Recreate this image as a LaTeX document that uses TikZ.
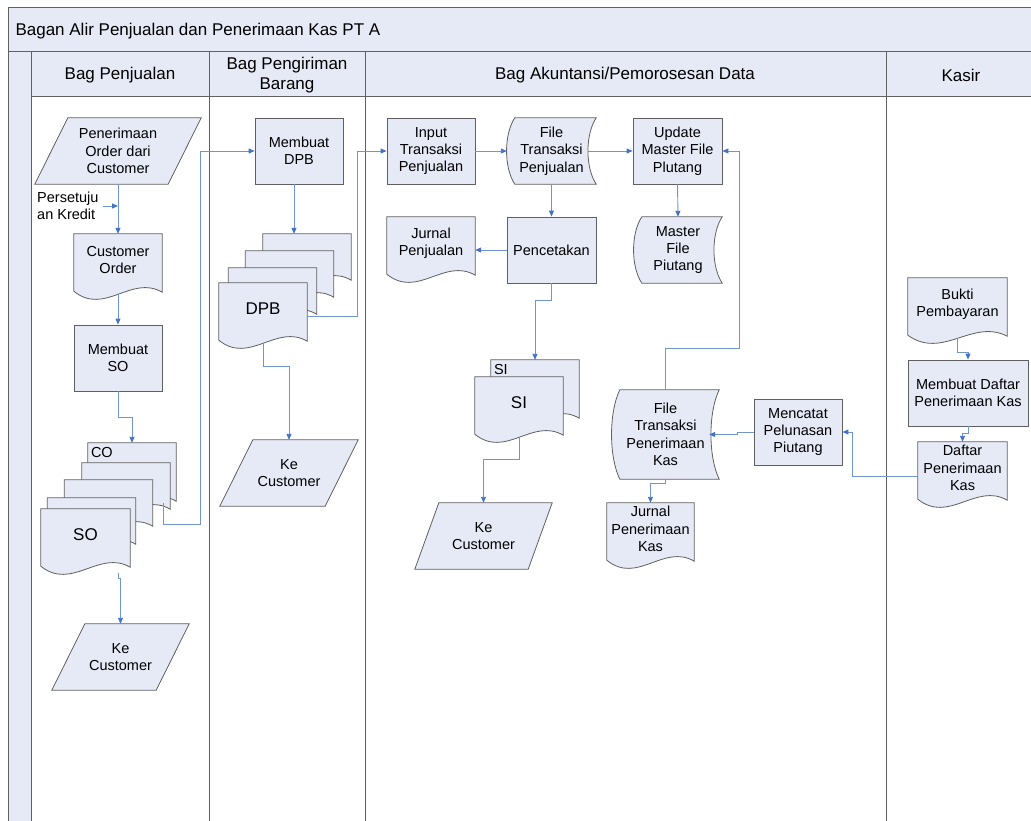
\documentclass[tikz,border=0pt]{standalone}
\usepackage{fontspec}
\setmainfont{Liberation Sans}
\usetikzlibrary{arrows.meta, calc}

\definecolor{lane}{RGB}{230,234,246}
\definecolor{edge}{RGB}{96,96,96}
\definecolor{flowblue}{RGB}{112,150,208}
\definecolor{tipblue}{RGB}{68,114,196}

\pgfdeclarelayer{background}
\pgfsetlayers{background,main}

% outline of a document sheet (wavy bottom)
\newcommand{\docshape}[1]{%
  \draw[shapebox] (#1.north west) -- (#1.north east) -- ($(#1.south east)+(0,6)$)
    .. controls ($(#1.south east)!.35!(#1.south west)+(0,-12)$) and ($(#1.south west)!.35!(#1.south east)+(0,30)$)
    .. ($(#1.south west)+(0,5)$) -- cycle;}
% outline of stored data
\newcommand{\storeshape}[1]{%
  \draw[shapebox] ($(#1.north west)+(8,0)$) -- (#1.north east)
    .. controls ($(#1.north east)!.25!(#1.south east)+(-11,0)$) and ($(#1.south east)!.25!(#1.north east)+(-11,0)$) .. (#1.south east)
    -- ($(#1.south west)+(8,0)$)
    .. controls ($(#1.south west)!.25!(#1.north west)+(-3,0)$) and ($(#1.north west)!.25!(#1.south west)+(-3,0)$) .. ($(#1.north west)+(8,0)$) -- cycle;}
% outline of input/output
\newcommand{\ioshape}[2]{%
  \draw[shapebox] ($(#1.north west)+(#2,0)$) -- (#1.north east) -- ($(#1.south east)+(-#2,0)$) -- (#1.south west) -- cycle;}

\begin{document}
\begin{tikzpicture}[x=1pt, y=-1pt, font=\fontsize{14.5}{17.4}\selectfont,
  proc/.style={draw=edge, fill=lane, line width=0.8pt, minimum width=88pt, minimum height=66pt, inner sep=0pt, align=center},
  doc/.style={minimum width=88pt, minimum height=52pt, inner sep=0pt, align=center},
  sheet/.style={doc, minimum height=40pt},
  store/.style={minimum width=88pt, minimum height=66pt, inner sep=0pt, align=center},
  shapebox/.style={draw=edge, fill=lane, line width=0.8pt},
  flow/.style={draw=flowblue, line width=0.9pt, -{Triangle[length=6pt, width=5pt, color=tipblue]}},
  lanehead/.style={font=\fontsize{17}{20}\selectfont, align=center},
  biglabel/.style={font=\fontsize{17}{20}\selectfont}]
  \useasboundingbox (0,0) rectangle (1031,821);

  % titles
  \node[lanehead, anchor=west] (title) at (12,31) {Bagan Alir Penjualan dan Penerimaan Kas PT A};
  \node[lanehead] (hjual) at (120,75) {Bag Penjualan};
  \node[lanehead] (hkirim) at (287,75) {Bag Pengiriman\\Barang};
  \node[lanehead] (hakun) at (625,75) {Bag Akuntansi/Pemorosesan Data};
  \node[lanehead] (hkasir) at (961,75) {Kasir};

  % Bag Penjualan
  \node[store, minimum width=166pt] (poc) at (118,151) {Penerimaan\\Order dari\\Customer};
  \node[anchor=west, align=left, inner sep=0pt] (kredit) at (37,206) {Persetuju\\an Kredit};
  \node[doc] (cord) at (118,260) {Customer\\Order};
  \node[proc] (mso) at (118,358) {Membuat\\SO};
  \node[doc] (co1) at (132,469) {};
  \node[sheet] (co2) at (126,483) {};
  \node[sheet] (co3) at (108.5,500) {};
  \node[sheet] (co4) at (91.5,518) {};
  \node[doc, biglabel, minimum width=89pt] (so) at (85.5,535) {SO};
  \node[anchor=west, inner sep=0pt] (colbl) at ($(co1.north west)+(3,10)$) {CO};
  \node[store, minimum width=137pt] (kc1) at (120.5,657) {Ke\\Customer};

  % Bag Pengiriman Barang
  \node[proc] (dpb) at (299,151) {Membuat\\DPB};
  \node[sheet] (dpb1) at (307,254) {};
  \node[sheet] (dpb2) at (289.5,271) {};
  \node[sheet] (dpb3) at (272.5,288) {};
  \node[doc, biglabel] (dpbd) at (263,309) {DPB};
  \node[store, minimum width=138pt] (kc2) at (289,473) {Ke\\Customer};

  % Bag Akuntansi
  \node[proc] (input) at (431,151) {Input\\Transaksi\\Penjualan};
  \node[store, minimum width=89pt] (ftp) at (551.5,151) {File\\Transaksi\\Penjualan};
  \node[proc, minimum width=89pt] (upd) at (677.5,151) {Update\\Master File\\Plutang};
  \node[doc] (jp) at (431,243) {Jurnal\\Penjualan};
  \node[proc, minimum width=89pt] (pct) at (551.5,250) {Pencetakan};
  \node[store] (mfp) at (678,250) {Master\\File\\Piutang};
  \node[doc] (si1) at (535,386) {};
  \node[doc, biglabel] (si2) at (519,403) {SI};
  \node[anchor=west, inner sep=0pt] (silbl) at ($(si1.north west)+(3,10)$) {SI};
  \node[store, minimum width=137pt] (kc3) at (483.5,536) {Ke\\Customer};
  \node[store, minimum width=107pt, minimum height=89pt] (ftpk) at (665.5,434.5) {File\\Transaksi\\Penerimaan\\Kas};
  \node[doc, minimum width=87pt] (jpk) at (650.5,529) {Jurnal\\Penerimaan\\Kas};
  \node[proc] (mcp) at (798,432) {Mencatat\\Pelunasan\\Piutang};

  % Kasir
  \node[doc, minimum width=99pt] (bkt) at (957.5,304) {Bukti\\Pembayaran};
  \node[proc, minimum width=120pt] (mdk) at (968,393) {Membuat Daftar\\Penerimaan Kas};
  \node[doc, minimum width=89pt] (dpk) at (962.5,468) {Daftar\\Penerimaan\\Kas};

  \begin{pgfonlayer}{background}
    \fill[lane] (8,8) rectangle (1031,52);
    \fill[lane] (31,52) rectangle (1031,97);
    \fill[lane] (8,52) rectangle (31,821);
    \draw[edge, line width=1pt] (1031,8) -- (8,8) -- (8,821);
    \draw[edge, line width=1pt] (8,52) -- (1031,52) (31,97) -- (1031,97);
    \foreach \x in {31,209,365,886}
      \draw[edge, line width=1pt] (\x,52) -- (\x,821);
    \ioshape{poc}{33}
    \ioshape{kc1}{33}
    \ioshape{kc2}{33}
    \ioshape{kc3}{24}
    \foreach \d in {cord,co1,co2,co3,co4,so,dpb1,dpb2,dpb3,dpbd,jp,si1,si2,jpk,bkt,dpk}
      {\docshape{\d}}
    \foreach \s in {ftp,mfp,ftpk}
      {\storeshape{\s}}
  \end{pgfonlayer}

  % connectors
  \draw[flow] (poc.south) -- (cord.north);
  \draw[flow] ([xshift=4pt]kredit.east) -- (kredit.east -| cord.north);
  \draw[flow] ([yshift=-8pt]cord.south) -- (mso.north);
  \draw[flow] (mso.south) -- ++(0,26) -| (co1.north);
  \draw[flow] ([xshift=-7pt]co2.south east) -- ++(0,21) -- ++(37,0) |- (dpb.west);
  \draw[flow] ([xshift=-12pt,yshift=-12pt]so.south east) -- ++(0,5) -| (kc1.north);
  \draw[flow] ([xshift=-5pt]dpb.south) -- ([xshift=-5pt]dpb.south |- dpb1.north);
  \draw[flow] ([yshift=-7pt]dpbd.east) -- ++(50,0) |- (input.west);
  \draw[flow] ([yshift=-8pt]dpbd.south) -- ++(0,23) -| (kc2.north);
  \draw[flow] (input.east) -- (ftp.west);
  \draw[flow] ([xshift=-8pt]ftp.east) -- (upd.west);
  \draw[flow] (ftp.south) -- (pct.north);
  \draw[flow] (pct.west) -- (jp.east |- pct.west);
  \draw[flow] (upd.south) -- (mfp.north);
  \draw[flow] (pct.south) -- ++(0,17) -| (si1.north);
  \draw[flow] ([yshift=-8pt]si2.south) -- ++(0,22) -| (kc3.north);
  \draw[flow] (ftpk.north) -- ++(0,-41) -| ($(upd.east)+(17,0)$) -- (upd.east);
  \draw[flow] (ftpk.south) -- ++(0,4) -| (jpk.north);
  \draw[flow] (mcp.west) -- ++(-16,0) |- ([xshift=-10pt]ftpk.east);
  \draw[flow] ([yshift=-8pt]bkt.south) -- ++(0,14) -| (mdk.north);
  \draw[flow] (mdk.south) -- ++(0,7) -| (dpk.north);
  \draw[flow] ([yshift=-8pt]dpk.west) -- ++(-65,0) |- (mcp.east);
\end{tikzpicture}
\end{document}
